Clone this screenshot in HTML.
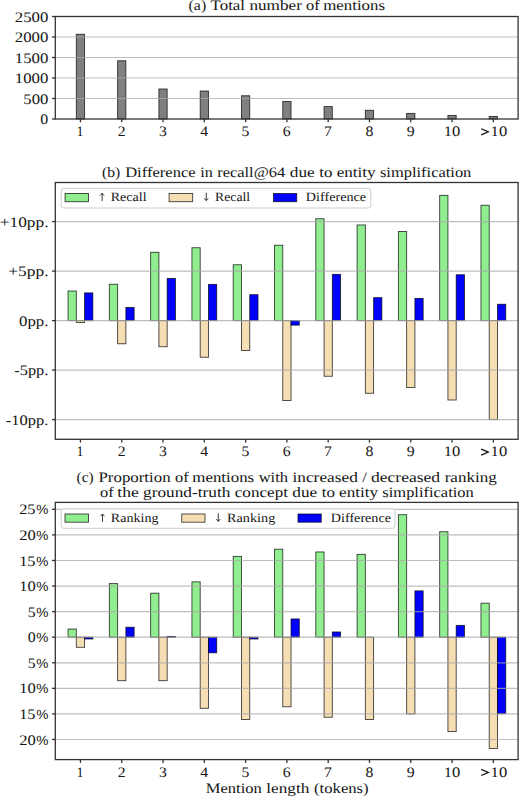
<!DOCTYPE html>
<html><head><meta charset="utf-8"><style>
html,body{margin:0;padding:0;background:#fff;}
svg{display:block;}
text{font-family:"Liberation Serif",serif;text-rendering:geometricPrecision;}
</style></head><body>
<svg width="520" height="797" viewBox="0 0 520 797">
<rect width="520" height="797" fill="#fff"/>
<text x="188.60" y="10.20" font-size="14.5" textLength="17.57" lengthAdjust="spacingAndGlyphs" fill="#151515" >(a)</text>
<text x="210.59" y="10.20" font-size="14.5" textLength="34.46" lengthAdjust="spacingAndGlyphs" fill="#151515" >Total</text>
<text x="249.42" y="10.20" font-size="14.5" textLength="52.48" lengthAdjust="spacingAndGlyphs" fill="#151515" >number</text>
<text x="306.02" y="10.20" font-size="14.5" textLength="13.67" lengthAdjust="spacingAndGlyphs" fill="#151515" >of</text>
<text x="323.24" y="10.20" font-size="14.5" textLength="61.77" lengthAdjust="spacingAndGlyphs" fill="#151515" >mentions</text>
<rect x="76.32" y="34.25" width="8.26" height="84.75" fill="#808080" stroke="#000" stroke-opacity="0.75" stroke-width="0.9"/>
<rect x="117.61" y="60.74" width="8.26" height="58.26" fill="#808080" stroke="#000" stroke-opacity="0.75" stroke-width="0.9"/>
<rect x="158.90" y="88.99" width="8.26" height="30.01" fill="#808080" stroke="#000" stroke-opacity="0.75" stroke-width="0.9"/>
<rect x="200.19" y="91.00" width="8.26" height="28.00" fill="#808080" stroke="#000" stroke-opacity="0.75" stroke-width="0.9"/>
<rect x="241.48" y="95.75" width="8.26" height="23.25" fill="#808080" stroke="#000" stroke-opacity="0.75" stroke-width="0.9"/>
<rect x="282.77" y="101.49" width="8.26" height="17.51" fill="#808080" stroke="#000" stroke-opacity="0.75" stroke-width="0.9"/>
<rect x="324.06" y="106.62" width="8.26" height="12.38" fill="#808080" stroke="#000" stroke-opacity="0.75" stroke-width="0.9"/>
<rect x="365.35" y="110.27" width="8.26" height="8.73" fill="#808080" stroke="#000" stroke-opacity="0.75" stroke-width="0.9"/>
<rect x="406.64" y="113.38" width="8.26" height="5.62" fill="#808080" stroke="#000" stroke-opacity="0.75" stroke-width="0.9"/>
<rect x="447.93" y="115.39" width="8.26" height="3.61" fill="#808080" stroke="#000" stroke-opacity="0.75" stroke-width="0.9"/>
<rect x="489.22" y="116.42" width="8.26" height="2.58" fill="#808080" stroke="#000" stroke-opacity="0.75" stroke-width="0.9"/>
<line x1="55.3" x2="518.1" y1="98.50" y2="98.50" stroke="#a8a8a8" stroke-opacity="0.75" stroke-width="1.2"/>
<line x1="55.3" x2="518.1" y1="78.00" y2="78.00" stroke="#a8a8a8" stroke-opacity="0.75" stroke-width="1.2"/>
<line x1="55.3" x2="518.1" y1="57.50" y2="57.50" stroke="#a8a8a8" stroke-opacity="0.75" stroke-width="1.2"/>
<line x1="55.3" x2="518.1" y1="37.00" y2="37.00" stroke="#a8a8a8" stroke-opacity="0.75" stroke-width="1.2"/>
<line x1="52.00" x2="55.3" y1="119.00" y2="119.00" stroke="#333" stroke-width="1.3"/>
<text x="40.39" y="124.10" font-size="14.5" textLength="7.92" lengthAdjust="spacingAndGlyphs" fill="#151515" >0</text>
<line x1="52.00" x2="55.3" y1="98.50" y2="98.50" stroke="#333" stroke-width="1.3"/>
<text x="23.32" y="103.60" font-size="14.5" textLength="25.03" lengthAdjust="spacingAndGlyphs" fill="#151515" >500</text>
<line x1="52.00" x2="55.3" y1="78.00" y2="78.00" stroke="#333" stroke-width="1.3"/>
<text x="14.83" y="83.10" font-size="14.5" textLength="33.52" lengthAdjust="spacingAndGlyphs" fill="#151515" >1000</text>
<line x1="52.00" x2="55.3" y1="57.50" y2="57.50" stroke="#333" stroke-width="1.3"/>
<text x="14.83" y="62.60" font-size="14.5" textLength="33.52" lengthAdjust="spacingAndGlyphs" fill="#151515" >1500</text>
<line x1="52.00" x2="55.3" y1="37.00" y2="37.00" stroke="#333" stroke-width="1.3"/>
<text x="14.84" y="42.10" font-size="14.5" textLength="33.51" lengthAdjust="spacingAndGlyphs" fill="#151515" >2000</text>
<line x1="52.00" x2="55.3" y1="16.50" y2="16.50" stroke="#333" stroke-width="1.3"/>
<text x="14.84" y="21.60" font-size="14.5" textLength="33.51" lengthAdjust="spacingAndGlyphs" fill="#151515" >2500</text>
<rect x="55.3" y="16.5" width="462.80" height="102.50" fill="none" stroke="#333" stroke-width="1.3"/>
<line x1="80.45" x2="80.45" y1="119.0" y2="122.30" stroke="#333" stroke-width="1.3"/>
<text x="76.60" y="136.00" font-size="14.5" textLength="7.04" lengthAdjust="spacingAndGlyphs" fill="#151515" >1</text>
<line x1="121.74" x2="121.74" y1="119.0" y2="122.30" stroke="#333" stroke-width="1.3"/>
<text x="117.72" y="136.00" font-size="14.5" textLength="7.82" lengthAdjust="spacingAndGlyphs" fill="#151515" >2</text>
<line x1="163.03" x2="163.03" y1="119.0" y2="122.30" stroke="#333" stroke-width="1.3"/>
<text x="159.05" y="136.00" font-size="14.5" textLength="7.84" lengthAdjust="spacingAndGlyphs" fill="#151515" >3</text>
<line x1="204.32" x2="204.32" y1="119.0" y2="122.30" stroke="#333" stroke-width="1.3"/>
<text x="200.18" y="136.00" font-size="14.5" textLength="7.96" lengthAdjust="spacingAndGlyphs" fill="#151515" >4</text>
<line x1="245.61" x2="245.61" y1="119.0" y2="122.30" stroke="#333" stroke-width="1.3"/>
<text x="241.59" y="136.00" font-size="14.5" textLength="7.84" lengthAdjust="spacingAndGlyphs" fill="#151515" >5</text>
<line x1="286.90" x2="286.90" y1="119.0" y2="122.30" stroke="#333" stroke-width="1.3"/>
<text x="282.87" y="136.00" font-size="14.5" textLength="7.90" lengthAdjust="spacingAndGlyphs" fill="#151515" >6</text>
<line x1="328.19" x2="328.19" y1="119.0" y2="122.30" stroke="#333" stroke-width="1.3"/>
<text x="324.03" y="136.00" font-size="14.5" textLength="7.89" lengthAdjust="spacingAndGlyphs" fill="#151515" >7</text>
<line x1="369.48" x2="369.48" y1="119.0" y2="122.30" stroke="#333" stroke-width="1.3"/>
<text x="365.53" y="136.00" font-size="14.5" textLength="7.89" lengthAdjust="spacingAndGlyphs" fill="#151515" >8</text>
<line x1="410.77" x2="410.77" y1="119.0" y2="122.30" stroke="#333" stroke-width="1.3"/>
<text x="406.86" y="136.00" font-size="14.5" textLength="7.90" lengthAdjust="spacingAndGlyphs" fill="#151515" >9</text>
<line x1="452.06" x2="452.06" y1="119.0" y2="122.30" stroke="#333" stroke-width="1.3"/>
<text x="443.75" y="136.00" font-size="14.5" textLength="16.53" lengthAdjust="spacingAndGlyphs" fill="#151515" >10</text>
<line x1="493.35" x2="493.35" y1="119.0" y2="122.30" stroke="#333" stroke-width="1.3"/>
<path d="M481.20,128.76 L488.34,131.82 L481.20,134.89" fill="none" stroke="#151515" stroke-width="1.25" stroke-linejoin="miter"/>
<text x="490.63" y="136.00" font-size="14.5" textLength="16.53" lengthAdjust="spacingAndGlyphs" fill="#151515" >10</text>
<text x="102.11" y="176.80" font-size="14.5" textLength="18.19" lengthAdjust="spacingAndGlyphs" fill="#151515" >(b)</text>
<text x="125.17" y="176.80" font-size="14.5" textLength="70.53" lengthAdjust="spacingAndGlyphs" fill="#151515" >Difference</text>
<text x="200.17" y="176.80" font-size="14.5" textLength="12.58" lengthAdjust="spacingAndGlyphs" fill="#151515" >in</text>
<text x="217.26" y="176.80" font-size="14.5" textLength="67.90" lengthAdjust="spacingAndGlyphs" fill="#151515" >recall@64</text>
<text x="289.85" y="176.80" font-size="14.5" textLength="24.89" lengthAdjust="spacingAndGlyphs" fill="#151515" >due</text>
<text x="319.26" y="176.80" font-size="14.5" textLength="13.13" lengthAdjust="spacingAndGlyphs" fill="#151515" >to</text>
<text x="336.65" y="176.80" font-size="14.5" textLength="39.00" lengthAdjust="spacingAndGlyphs" fill="#151515" >entity</text>
<text x="379.93" y="176.80" font-size="14.5" textLength="91.42" lengthAdjust="spacingAndGlyphs" fill="#151515" >simplification</text>
<rect x="68.06" y="291.00" width="8.26" height="29.60" fill="#90ee90" stroke="#000" stroke-opacity="0.75" stroke-width="0.9"/>
<rect x="76.32" y="320.60" width="8.26" height="1.88" fill="#f5deb3" stroke="#000" stroke-opacity="0.75" stroke-width="0.9"/>
<rect x="84.58" y="292.88" width="8.26" height="27.72" fill="#0000ff" stroke="#000" stroke-opacity="0.75" stroke-width="0.9"/>
<rect x="109.35" y="284.27" width="8.26" height="36.33" fill="#90ee90" stroke="#000" stroke-opacity="0.75" stroke-width="0.9"/>
<rect x="117.61" y="320.60" width="8.26" height="23.17" fill="#f5deb3" stroke="#000" stroke-opacity="0.75" stroke-width="0.9"/>
<rect x="125.87" y="307.43" width="8.26" height="13.17" fill="#0000ff" stroke="#000" stroke-opacity="0.75" stroke-width="0.9"/>
<rect x="150.64" y="252.29" width="8.26" height="68.31" fill="#90ee90" stroke="#000" stroke-opacity="0.75" stroke-width="0.9"/>
<rect x="158.90" y="320.60" width="8.26" height="26.14" fill="#f5deb3" stroke="#000" stroke-opacity="0.75" stroke-width="0.9"/>
<rect x="167.16" y="278.43" width="8.26" height="42.17" fill="#0000ff" stroke="#000" stroke-opacity="0.75" stroke-width="0.9"/>
<rect x="191.93" y="247.74" width="8.26" height="72.86" fill="#90ee90" stroke="#000" stroke-opacity="0.75" stroke-width="0.9"/>
<rect x="200.19" y="320.60" width="8.26" height="36.63" fill="#f5deb3" stroke="#000" stroke-opacity="0.75" stroke-width="0.9"/>
<rect x="208.45" y="284.37" width="8.26" height="36.23" fill="#0000ff" stroke="#000" stroke-opacity="0.75" stroke-width="0.9"/>
<rect x="233.22" y="264.76" width="8.26" height="55.84" fill="#90ee90" stroke="#000" stroke-opacity="0.75" stroke-width="0.9"/>
<rect x="241.48" y="320.60" width="8.26" height="29.90" fill="#f5deb3" stroke="#000" stroke-opacity="0.75" stroke-width="0.9"/>
<rect x="249.74" y="294.66" width="8.26" height="25.94" fill="#0000ff" stroke="#000" stroke-opacity="0.75" stroke-width="0.9"/>
<rect x="274.51" y="245.26" width="8.26" height="75.34" fill="#90ee90" stroke="#000" stroke-opacity="0.75" stroke-width="0.9"/>
<rect x="282.77" y="320.60" width="8.26" height="79.89" fill="#f5deb3" stroke="#000" stroke-opacity="0.75" stroke-width="0.9"/>
<rect x="291.03" y="320.60" width="8.26" height="4.55" fill="#0000ff" stroke="#000" stroke-opacity="0.75" stroke-width="0.9"/>
<rect x="315.80" y="218.73" width="8.26" height="101.87" fill="#90ee90" stroke="#000" stroke-opacity="0.75" stroke-width="0.9"/>
<rect x="324.06" y="320.60" width="8.26" height="55.64" fill="#f5deb3" stroke="#000" stroke-opacity="0.75" stroke-width="0.9"/>
<rect x="332.32" y="274.37" width="8.26" height="46.23" fill="#0000ff" stroke="#000" stroke-opacity="0.75" stroke-width="0.9"/>
<rect x="357.09" y="224.97" width="8.26" height="95.63" fill="#90ee90" stroke="#000" stroke-opacity="0.75" stroke-width="0.9"/>
<rect x="365.35" y="320.60" width="8.26" height="72.67" fill="#f5deb3" stroke="#000" stroke-opacity="0.75" stroke-width="0.9"/>
<rect x="373.61" y="297.63" width="8.26" height="22.97" fill="#0000ff" stroke="#000" stroke-opacity="0.75" stroke-width="0.9"/>
<rect x="398.38" y="231.50" width="8.26" height="89.10" fill="#90ee90" stroke="#000" stroke-opacity="0.75" stroke-width="0.9"/>
<rect x="406.64" y="320.60" width="8.26" height="66.92" fill="#f5deb3" stroke="#000" stroke-opacity="0.75" stroke-width="0.9"/>
<rect x="414.90" y="298.42" width="8.26" height="22.18" fill="#0000ff" stroke="#000" stroke-opacity="0.75" stroke-width="0.9"/>
<rect x="439.67" y="195.37" width="8.26" height="125.24" fill="#90ee90" stroke="#000" stroke-opacity="0.75" stroke-width="0.9"/>
<rect x="447.93" y="320.60" width="8.26" height="79.40" fill="#f5deb3" stroke="#000" stroke-opacity="0.75" stroke-width="0.9"/>
<rect x="456.19" y="274.76" width="8.26" height="45.84" fill="#0000ff" stroke="#000" stroke-opacity="0.75" stroke-width="0.9"/>
<rect x="480.96" y="205.27" width="8.26" height="115.34" fill="#90ee90" stroke="#000" stroke-opacity="0.75" stroke-width="0.9"/>
<rect x="489.22" y="320.60" width="8.26" height="99.00" fill="#f5deb3" stroke="#000" stroke-opacity="0.75" stroke-width="0.9"/>
<rect x="497.48" y="304.27" width="8.26" height="16.33" fill="#0000ff" stroke="#000" stroke-opacity="0.75" stroke-width="0.9"/>
<line x1="55.3" x2="518.1" y1="419.60" y2="419.60" stroke="#a8a8a8" stroke-opacity="0.75" stroke-width="1.2"/>
<line x1="55.3" x2="518.1" y1="370.10" y2="370.10" stroke="#a8a8a8" stroke-opacity="0.75" stroke-width="1.2"/>
<line x1="55.3" x2="518.1" y1="320.60" y2="320.60" stroke="#a8a8a8" stroke-opacity="0.75" stroke-width="1.2"/>
<line x1="55.3" x2="518.1" y1="271.10" y2="271.10" stroke="#a8a8a8" stroke-opacity="0.75" stroke-width="1.2"/>
<line x1="55.3" x2="518.1" y1="221.60" y2="221.60" stroke="#a8a8a8" stroke-opacity="0.75" stroke-width="1.2"/>
<rect x="61.2" y="188.3" width="309.60" height="19.70" rx="2.5" fill="#fff" fill-opacity="0.8" stroke="#ccc" stroke-width="1"/>
<rect x="65.1" y="193.50" width="23.40" height="8.2" fill="#90ee90" stroke="#000" stroke-opacity="0.75" stroke-width="0.9"/>
<path d="M102.15,201.10 L102.15,193.30 M100.15,195.50 L102.15,193.20 L104.15,195.50" fill="none" stroke="#222" stroke-width="0.9"/>
<text x="110.70" y="201.10" font-size="12.7" textLength="35.89" lengthAdjust="spacingAndGlyphs" fill="#151515" >Recall</text>
<rect x="169.1" y="193.50" width="23.60" height="8.2" fill="#f5deb3" stroke="#000" stroke-opacity="0.75" stroke-width="0.9"/>
<path d="M206.25,192.70 L206.25,200.50 M204.25,198.30 L206.25,200.60 L208.25,198.30" fill="none" stroke="#222" stroke-width="0.9"/>
<text x="215.10" y="201.10" font-size="12.7" textLength="35.07" lengthAdjust="spacingAndGlyphs" fill="#151515" >Recall</text>
<rect x="273.5" y="193.50" width="23.20" height="8.2" fill="#0000ff" stroke="#000" stroke-opacity="0.75" stroke-width="0.9"/>
<text x="305.89" y="201.10" font-size="12.7" textLength="60.30" lengthAdjust="spacingAndGlyphs" fill="#151515" >Difference</text>
<line x1="52.00" x2="55.3" y1="221.60" y2="221.60" stroke="#333" stroke-width="1.3"/>
<text x="-0.29" y="226.70" font-size="14.5" textLength="48.78" lengthAdjust="spacingAndGlyphs" fill="#151515" >+10pp.</text>
<line x1="52.00" x2="55.3" y1="271.10" y2="271.10" stroke="#333" stroke-width="1.3"/>
<text x="8.19" y="276.20" font-size="14.5" textLength="40.31" lengthAdjust="spacingAndGlyphs" fill="#151515" >+5pp.</text>
<line x1="52.00" x2="55.3" y1="320.60" y2="320.60" stroke="#333" stroke-width="1.3"/>
<text x="19.05" y="325.70" font-size="14.5" textLength="29.40" lengthAdjust="spacingAndGlyphs" fill="#151515" >0pp.</text>
<line x1="52.00" x2="55.3" y1="370.10" y2="370.10" stroke="#333" stroke-width="1.3"/>
<text x="14.29" y="375.20" font-size="14.5" textLength="34.14" lengthAdjust="spacingAndGlyphs" fill="#151515" >-5pp.</text>
<line x1="52.00" x2="55.3" y1="419.60" y2="419.60" stroke="#333" stroke-width="1.3"/>
<text x="5.80" y="424.70" font-size="14.5" textLength="42.63" lengthAdjust="spacingAndGlyphs" fill="#151515" >-10pp.</text>
<rect x="55.3" y="182.5" width="462.80" height="256.80" fill="none" stroke="#333" stroke-width="1.3"/>
<line x1="80.45" x2="80.45" y1="439.3" y2="442.60" stroke="#333" stroke-width="1.3"/>
<text x="76.60" y="456.30" font-size="14.5" textLength="7.04" lengthAdjust="spacingAndGlyphs" fill="#151515" >1</text>
<line x1="121.74" x2="121.74" y1="439.3" y2="442.60" stroke="#333" stroke-width="1.3"/>
<text x="117.72" y="456.30" font-size="14.5" textLength="7.82" lengthAdjust="spacingAndGlyphs" fill="#151515" >2</text>
<line x1="163.03" x2="163.03" y1="439.3" y2="442.60" stroke="#333" stroke-width="1.3"/>
<text x="159.05" y="456.30" font-size="14.5" textLength="7.84" lengthAdjust="spacingAndGlyphs" fill="#151515" >3</text>
<line x1="204.32" x2="204.32" y1="439.3" y2="442.60" stroke="#333" stroke-width="1.3"/>
<text x="200.18" y="456.30" font-size="14.5" textLength="7.96" lengthAdjust="spacingAndGlyphs" fill="#151515" >4</text>
<line x1="245.61" x2="245.61" y1="439.3" y2="442.60" stroke="#333" stroke-width="1.3"/>
<text x="241.59" y="456.30" font-size="14.5" textLength="7.84" lengthAdjust="spacingAndGlyphs" fill="#151515" >5</text>
<line x1="286.90" x2="286.90" y1="439.3" y2="442.60" stroke="#333" stroke-width="1.3"/>
<text x="282.87" y="456.30" font-size="14.5" textLength="7.90" lengthAdjust="spacingAndGlyphs" fill="#151515" >6</text>
<line x1="328.19" x2="328.19" y1="439.3" y2="442.60" stroke="#333" stroke-width="1.3"/>
<text x="324.03" y="456.30" font-size="14.5" textLength="7.89" lengthAdjust="spacingAndGlyphs" fill="#151515" >7</text>
<line x1="369.48" x2="369.48" y1="439.3" y2="442.60" stroke="#333" stroke-width="1.3"/>
<text x="365.53" y="456.30" font-size="14.5" textLength="7.89" lengthAdjust="spacingAndGlyphs" fill="#151515" >8</text>
<line x1="410.77" x2="410.77" y1="439.3" y2="442.60" stroke="#333" stroke-width="1.3"/>
<text x="406.86" y="456.30" font-size="14.5" textLength="7.90" lengthAdjust="spacingAndGlyphs" fill="#151515" >9</text>
<line x1="452.06" x2="452.06" y1="439.3" y2="442.60" stroke="#333" stroke-width="1.3"/>
<text x="443.75" y="456.30" font-size="14.5" textLength="16.53" lengthAdjust="spacingAndGlyphs" fill="#151515" >10</text>
<line x1="493.35" x2="493.35" y1="439.3" y2="442.60" stroke="#333" stroke-width="1.3"/>
<path d="M481.20,449.06 L488.34,452.12 L481.20,455.19" fill="none" stroke="#151515" stroke-width="1.25" stroke-linejoin="miter"/>
<text x="490.63" y="456.30" font-size="14.5" textLength="16.53" lengthAdjust="spacingAndGlyphs" fill="#151515" >10</text>
<text x="76.52" y="481.70" font-size="14.5" textLength="17.10" lengthAdjust="spacingAndGlyphs" fill="#151515" >(c)</text>
<text x="98.48" y="481.70" font-size="14.5" textLength="72.11" lengthAdjust="spacingAndGlyphs" fill="#151515" >Proportion</text>
<text x="174.98" y="481.70" font-size="14.5" textLength="13.71" lengthAdjust="spacingAndGlyphs" fill="#151515" >of</text>
<text x="192.25" y="481.70" font-size="14.5" textLength="61.94" lengthAdjust="spacingAndGlyphs" fill="#151515" >mentions</text>
<text x="258.70" y="481.70" font-size="14.5" textLength="29.24" lengthAdjust="spacingAndGlyphs" fill="#151515" >with</text>
<text x="292.45" y="481.70" font-size="14.5" textLength="65.44" lengthAdjust="spacingAndGlyphs" fill="#151515" >increased</text>
<text x="362.30" y="481.70" font-size="14.5" textLength="4.49" lengthAdjust="spacingAndGlyphs" fill="#151515" >/</text>
<text x="371.05" y="481.70" font-size="14.5" textLength="69.10" lengthAdjust="spacingAndGlyphs" fill="#151515" >decreased</text>
<text x="444.70" y="481.70" font-size="14.5" textLength="52.12" lengthAdjust="spacingAndGlyphs" fill="#151515" >ranking</text>
<text x="99.97" y="496.80" font-size="14.5" textLength="13.71" lengthAdjust="spacingAndGlyphs" fill="#151515" >of</text>
<text x="117.33" y="496.80" font-size="14.5" textLength="21.55" lengthAdjust="spacingAndGlyphs" fill="#151515" >the</text>
<text x="143.09" y="496.80" font-size="14.5" textLength="87.27" lengthAdjust="spacingAndGlyphs" fill="#151515" >ground-truth</text>
<text x="234.75" y="496.80" font-size="14.5" textLength="53.27" lengthAdjust="spacingAndGlyphs" fill="#151515" >concept</text>
<text x="292.30" y="496.80" font-size="14.5" textLength="24.88" lengthAdjust="spacingAndGlyphs" fill="#151515" >due</text>
<text x="321.71" y="496.80" font-size="14.5" textLength="13.13" lengthAdjust="spacingAndGlyphs" fill="#151515" >to</text>
<text x="339.09" y="496.80" font-size="14.5" textLength="38.99" lengthAdjust="spacingAndGlyphs" fill="#151515" >entity</text>
<text x="382.36" y="496.80" font-size="14.5" textLength="91.39" lengthAdjust="spacingAndGlyphs" fill="#151515" >simplification</text>
<rect x="68.06" y="629.02" width="8.26" height="8.18" fill="#90ee90" stroke="#000" stroke-opacity="0.75" stroke-width="0.9"/>
<rect x="76.32" y="637.20" width="8.26" height="10.08" fill="#f5deb3" stroke="#000" stroke-opacity="0.75" stroke-width="0.9"/>
<rect x="84.58" y="637.20" width="8.26" height="1.79" fill="#0000ff" stroke="#000" stroke-opacity="0.75" stroke-width="0.9"/>
<rect x="109.35" y="583.59" width="8.26" height="53.61" fill="#90ee90" stroke="#000" stroke-opacity="0.75" stroke-width="0.9"/>
<rect x="117.61" y="637.20" width="8.26" height="43.48" fill="#f5deb3" stroke="#000" stroke-opacity="0.75" stroke-width="0.9"/>
<rect x="125.87" y="627.23" width="8.26" height="9.97" fill="#0000ff" stroke="#000" stroke-opacity="0.75" stroke-width="0.9"/>
<rect x="150.64" y="593.21" width="8.26" height="43.99" fill="#90ee90" stroke="#000" stroke-opacity="0.75" stroke-width="0.9"/>
<rect x="158.90" y="637.20" width="8.26" height="43.48" fill="#f5deb3" stroke="#000" stroke-opacity="0.75" stroke-width="0.9"/>
<rect x="167.16" y="636.43" width="8.26" height="0.77" fill="#0000ff" stroke="#000" stroke-opacity="0.75" stroke-width="0.9"/>
<rect x="191.93" y="581.86" width="8.26" height="55.34" fill="#90ee90" stroke="#000" stroke-opacity="0.75" stroke-width="0.9"/>
<rect x="200.19" y="637.20" width="8.26" height="71.10" fill="#f5deb3" stroke="#000" stroke-opacity="0.75" stroke-width="0.9"/>
<rect x="208.45" y="637.20" width="8.26" height="15.60" fill="#0000ff" stroke="#000" stroke-opacity="0.75" stroke-width="0.9"/>
<rect x="233.22" y="556.38" width="8.26" height="80.82" fill="#90ee90" stroke="#000" stroke-opacity="0.75" stroke-width="0.9"/>
<rect x="241.48" y="637.20" width="8.26" height="82.35" fill="#f5deb3" stroke="#000" stroke-opacity="0.75" stroke-width="0.9"/>
<rect x="249.74" y="637.20" width="8.26" height="1.79" fill="#0000ff" stroke="#000" stroke-opacity="0.75" stroke-width="0.9"/>
<rect x="274.51" y="549.22" width="8.26" height="87.98" fill="#90ee90" stroke="#000" stroke-opacity="0.75" stroke-width="0.9"/>
<rect x="282.77" y="637.20" width="8.26" height="69.56" fill="#f5deb3" stroke="#000" stroke-opacity="0.75" stroke-width="0.9"/>
<rect x="291.03" y="618.94" width="8.26" height="18.26" fill="#0000ff" stroke="#000" stroke-opacity="0.75" stroke-width="0.9"/>
<rect x="315.80" y="551.98" width="8.26" height="85.22" fill="#90ee90" stroke="#000" stroke-opacity="0.75" stroke-width="0.9"/>
<rect x="324.06" y="637.20" width="8.26" height="80.05" fill="#f5deb3" stroke="#000" stroke-opacity="0.75" stroke-width="0.9"/>
<rect x="332.32" y="631.98" width="8.26" height="5.22" fill="#0000ff" stroke="#000" stroke-opacity="0.75" stroke-width="0.9"/>
<rect x="357.09" y="554.34" width="8.26" height="82.86" fill="#90ee90" stroke="#000" stroke-opacity="0.75" stroke-width="0.9"/>
<rect x="365.35" y="637.20" width="8.26" height="82.35" fill="#f5deb3" stroke="#000" stroke-opacity="0.75" stroke-width="0.9"/>
<rect x="398.38" y="514.70" width="8.26" height="122.50" fill="#90ee90" stroke="#000" stroke-opacity="0.75" stroke-width="0.9"/>
<rect x="406.64" y="637.20" width="8.26" height="76.73" fill="#f5deb3" stroke="#000" stroke-opacity="0.75" stroke-width="0.9"/>
<rect x="414.90" y="590.86" width="8.26" height="46.34" fill="#0000ff" stroke="#000" stroke-opacity="0.75" stroke-width="0.9"/>
<rect x="439.67" y="531.73" width="8.26" height="105.47" fill="#90ee90" stroke="#000" stroke-opacity="0.75" stroke-width="0.9"/>
<rect x="447.93" y="637.20" width="8.26" height="94.37" fill="#f5deb3" stroke="#000" stroke-opacity="0.75" stroke-width="0.9"/>
<rect x="456.19" y="625.38" width="8.26" height="11.82" fill="#0000ff" stroke="#000" stroke-opacity="0.75" stroke-width="0.9"/>
<rect x="480.96" y="603.19" width="8.26" height="34.01" fill="#90ee90" stroke="#000" stroke-opacity="0.75" stroke-width="0.9"/>
<rect x="489.22" y="637.20" width="8.26" height="111.25" fill="#f5deb3" stroke="#000" stroke-opacity="0.75" stroke-width="0.9"/>
<rect x="497.48" y="637.20" width="8.26" height="76.52" fill="#0000ff" stroke="#000" stroke-opacity="0.75" stroke-width="0.9"/>
<line x1="55.3" x2="518.1" y1="739.50" y2="739.50" stroke="#a8a8a8" stroke-opacity="0.75" stroke-width="1.2"/>
<line x1="55.3" x2="518.1" y1="713.93" y2="713.93" stroke="#a8a8a8" stroke-opacity="0.75" stroke-width="1.2"/>
<line x1="55.3" x2="518.1" y1="688.35" y2="688.35" stroke="#a8a8a8" stroke-opacity="0.75" stroke-width="1.2"/>
<line x1="55.3" x2="518.1" y1="662.78" y2="662.78" stroke="#a8a8a8" stroke-opacity="0.75" stroke-width="1.2"/>
<line x1="55.3" x2="518.1" y1="637.20" y2="637.20" stroke="#a8a8a8" stroke-opacity="0.75" stroke-width="1.2"/>
<line x1="55.3" x2="518.1" y1="611.62" y2="611.62" stroke="#a8a8a8" stroke-opacity="0.75" stroke-width="1.2"/>
<line x1="55.3" x2="518.1" y1="586.05" y2="586.05" stroke="#a8a8a8" stroke-opacity="0.75" stroke-width="1.2"/>
<line x1="55.3" x2="518.1" y1="560.48" y2="560.48" stroke="#a8a8a8" stroke-opacity="0.75" stroke-width="1.2"/>
<line x1="55.3" x2="518.1" y1="534.90" y2="534.90" stroke="#a8a8a8" stroke-opacity="0.75" stroke-width="1.2"/>
<line x1="55.3" x2="518.1" y1="509.33" y2="509.33" stroke="#a8a8a8" stroke-opacity="0.75" stroke-width="1.2"/>
<rect x="61.2" y="508.8" width="333.80" height="19.50" rx="2.5" fill="#fff" fill-opacity="0.8" stroke="#ccc" stroke-width="1"/>
<rect x="65.0" y="514.00" width="23.50" height="8.2" fill="#90ee90" stroke="#000" stroke-opacity="0.75" stroke-width="0.9"/>
<path d="M102.50,521.85 L102.50,514.05 M100.50,516.25 L102.50,513.95 L104.50,516.25" fill="none" stroke="#222" stroke-width="0.9"/>
<text x="110.84" y="521.85" font-size="12.7" textLength="47.67" lengthAdjust="spacingAndGlyphs" fill="#151515" >Ranking</text>
<rect x="181.75" y="514.00" width="23.25" height="8.2" fill="#f5deb3" stroke="#000" stroke-opacity="0.75" stroke-width="0.9"/>
<path d="M218.25,513.45 L218.25,521.25 M216.25,519.05 L218.25,521.35 L220.25,519.05" fill="none" stroke="#222" stroke-width="0.9"/>
<text x="227.09" y="521.85" font-size="12.7" textLength="48.18" lengthAdjust="spacingAndGlyphs" fill="#151515" >Ranking</text>
<rect x="298.0" y="514.00" width="23.25" height="8.2" fill="#0000ff" stroke="#000" stroke-opacity="0.75" stroke-width="0.9"/>
<text x="330.84" y="521.85" font-size="12.7" textLength="60.14" lengthAdjust="spacingAndGlyphs" fill="#151515" >Difference</text>
<line x1="52.00" x2="55.3" y1="509.33" y2="509.33" stroke="#333" stroke-width="1.3"/>
<text x="19.16" y="514.43" font-size="14.5" textLength="16.39" lengthAdjust="spacingAndGlyphs" fill="#151515" >25</text>
<text x="36.18" y="514.43" font-size="13.5" textLength="12.17" lengthAdjust="spacingAndGlyphs" fill="#151515" style="font-family:'Liberation Sans',sans-serif">%</text>
<line x1="52.00" x2="55.3" y1="534.90" y2="534.90" stroke="#333" stroke-width="1.3"/>
<text x="19.15" y="540.00" font-size="14.5" textLength="16.53" lengthAdjust="spacingAndGlyphs" fill="#151515" >20</text>
<text x="36.18" y="540.00" font-size="13.5" textLength="12.17" lengthAdjust="spacingAndGlyphs" fill="#151515" style="font-family:'Liberation Sans',sans-serif">%</text>
<line x1="52.00" x2="55.3" y1="560.48" y2="560.48" stroke="#333" stroke-width="1.3"/>
<text x="19.16" y="565.58" font-size="14.5" textLength="16.39" lengthAdjust="spacingAndGlyphs" fill="#151515" >15</text>
<text x="36.18" y="565.58" font-size="13.5" textLength="12.17" lengthAdjust="spacingAndGlyphs" fill="#151515" style="font-family:'Liberation Sans',sans-serif">%</text>
<line x1="52.00" x2="55.3" y1="586.05" y2="586.05" stroke="#333" stroke-width="1.3"/>
<text x="19.15" y="591.15" font-size="14.5" textLength="16.53" lengthAdjust="spacingAndGlyphs" fill="#151515" >10</text>
<text x="36.18" y="591.15" font-size="13.5" textLength="12.17" lengthAdjust="spacingAndGlyphs" fill="#151515" style="font-family:'Liberation Sans',sans-serif">%</text>
<line x1="52.00" x2="55.3" y1="611.62" y2="611.62" stroke="#333" stroke-width="1.3"/>
<text x="27.67" y="616.73" font-size="14.5" textLength="7.84" lengthAdjust="spacingAndGlyphs" fill="#151515" >5</text>
<text x="36.18" y="616.73" font-size="13.5" textLength="12.17" lengthAdjust="spacingAndGlyphs" fill="#151515" style="font-family:'Liberation Sans',sans-serif">%</text>
<line x1="52.00" x2="55.3" y1="637.20" y2="637.20" stroke="#333" stroke-width="1.3"/>
<text x="27.73" y="642.30" font-size="14.5" textLength="7.92" lengthAdjust="spacingAndGlyphs" fill="#151515" >0</text>
<text x="36.18" y="642.30" font-size="13.5" textLength="12.17" lengthAdjust="spacingAndGlyphs" fill="#151515" style="font-family:'Liberation Sans',sans-serif">%</text>
<line x1="52.00" x2="55.3" y1="662.78" y2="662.78" stroke="#333" stroke-width="1.3"/>
<text x="27.67" y="667.88" font-size="14.5" textLength="7.84" lengthAdjust="spacingAndGlyphs" fill="#151515" >5</text>
<text x="36.18" y="667.88" font-size="13.5" textLength="12.17" lengthAdjust="spacingAndGlyphs" fill="#151515" style="font-family:'Liberation Sans',sans-serif">%</text>
<line x1="52.00" x2="55.3" y1="688.35" y2="688.35" stroke="#333" stroke-width="1.3"/>
<text x="19.15" y="693.45" font-size="14.5" textLength="16.53" lengthAdjust="spacingAndGlyphs" fill="#151515" >10</text>
<text x="36.18" y="693.45" font-size="13.5" textLength="12.17" lengthAdjust="spacingAndGlyphs" fill="#151515" style="font-family:'Liberation Sans',sans-serif">%</text>
<line x1="52.00" x2="55.3" y1="713.93" y2="713.93" stroke="#333" stroke-width="1.3"/>
<text x="19.16" y="719.03" font-size="14.5" textLength="16.39" lengthAdjust="spacingAndGlyphs" fill="#151515" >15</text>
<text x="36.18" y="719.03" font-size="13.5" textLength="12.17" lengthAdjust="spacingAndGlyphs" fill="#151515" style="font-family:'Liberation Sans',sans-serif">%</text>
<line x1="52.00" x2="55.3" y1="739.50" y2="739.50" stroke="#333" stroke-width="1.3"/>
<text x="19.15" y="744.60" font-size="14.5" textLength="16.53" lengthAdjust="spacingAndGlyphs" fill="#151515" >20</text>
<text x="36.18" y="744.60" font-size="13.5" textLength="12.17" lengthAdjust="spacingAndGlyphs" fill="#151515" style="font-family:'Liberation Sans',sans-serif">%</text>
<rect x="55.3" y="502.4" width="462.80" height="257.20" fill="none" stroke="#333" stroke-width="1.3"/>
<line x1="80.45" x2="80.45" y1="759.6" y2="762.90" stroke="#333" stroke-width="1.3"/>
<text x="76.60" y="776.60" font-size="14.5" textLength="7.04" lengthAdjust="spacingAndGlyphs" fill="#151515" >1</text>
<line x1="121.74" x2="121.74" y1="759.6" y2="762.90" stroke="#333" stroke-width="1.3"/>
<text x="117.72" y="776.60" font-size="14.5" textLength="7.82" lengthAdjust="spacingAndGlyphs" fill="#151515" >2</text>
<line x1="163.03" x2="163.03" y1="759.6" y2="762.90" stroke="#333" stroke-width="1.3"/>
<text x="159.05" y="776.60" font-size="14.5" textLength="7.84" lengthAdjust="spacingAndGlyphs" fill="#151515" >3</text>
<line x1="204.32" x2="204.32" y1="759.6" y2="762.90" stroke="#333" stroke-width="1.3"/>
<text x="200.18" y="776.60" font-size="14.5" textLength="7.96" lengthAdjust="spacingAndGlyphs" fill="#151515" >4</text>
<line x1="245.61" x2="245.61" y1="759.6" y2="762.90" stroke="#333" stroke-width="1.3"/>
<text x="241.59" y="776.60" font-size="14.5" textLength="7.84" lengthAdjust="spacingAndGlyphs" fill="#151515" >5</text>
<line x1="286.90" x2="286.90" y1="759.6" y2="762.90" stroke="#333" stroke-width="1.3"/>
<text x="282.87" y="776.60" font-size="14.5" textLength="7.90" lengthAdjust="spacingAndGlyphs" fill="#151515" >6</text>
<line x1="328.19" x2="328.19" y1="759.6" y2="762.90" stroke="#333" stroke-width="1.3"/>
<text x="324.03" y="776.60" font-size="14.5" textLength="7.89" lengthAdjust="spacingAndGlyphs" fill="#151515" >7</text>
<line x1="369.48" x2="369.48" y1="759.6" y2="762.90" stroke="#333" stroke-width="1.3"/>
<text x="365.53" y="776.60" font-size="14.5" textLength="7.89" lengthAdjust="spacingAndGlyphs" fill="#151515" >8</text>
<line x1="410.77" x2="410.77" y1="759.6" y2="762.90" stroke="#333" stroke-width="1.3"/>
<text x="406.86" y="776.60" font-size="14.5" textLength="7.90" lengthAdjust="spacingAndGlyphs" fill="#151515" >9</text>
<line x1="452.06" x2="452.06" y1="759.6" y2="762.90" stroke="#333" stroke-width="1.3"/>
<text x="443.75" y="776.60" font-size="14.5" textLength="16.53" lengthAdjust="spacingAndGlyphs" fill="#151515" >10</text>
<line x1="493.35" x2="493.35" y1="759.6" y2="762.90" stroke="#333" stroke-width="1.3"/>
<path d="M481.20,769.36 L488.34,772.42 L481.20,775.49" fill="none" stroke="#151515" stroke-width="1.25" stroke-linejoin="miter"/>
<text x="490.63" y="776.60" font-size="14.5" textLength="16.53" lengthAdjust="spacingAndGlyphs" fill="#151515" >10</text>
<text x="205.77" y="792.90" font-size="14.5" textLength="56.10" lengthAdjust="spacingAndGlyphs" fill="#151515" >Mention</text>
<text x="266.27" y="792.90" font-size="14.5" textLength="43.07" lengthAdjust="spacingAndGlyphs" fill="#151515" >length</text>
<text x="314.05" y="792.90" font-size="14.5" textLength="54.58" lengthAdjust="spacingAndGlyphs" fill="#151515" >(tokens)</text>
</svg>
</body></html>
